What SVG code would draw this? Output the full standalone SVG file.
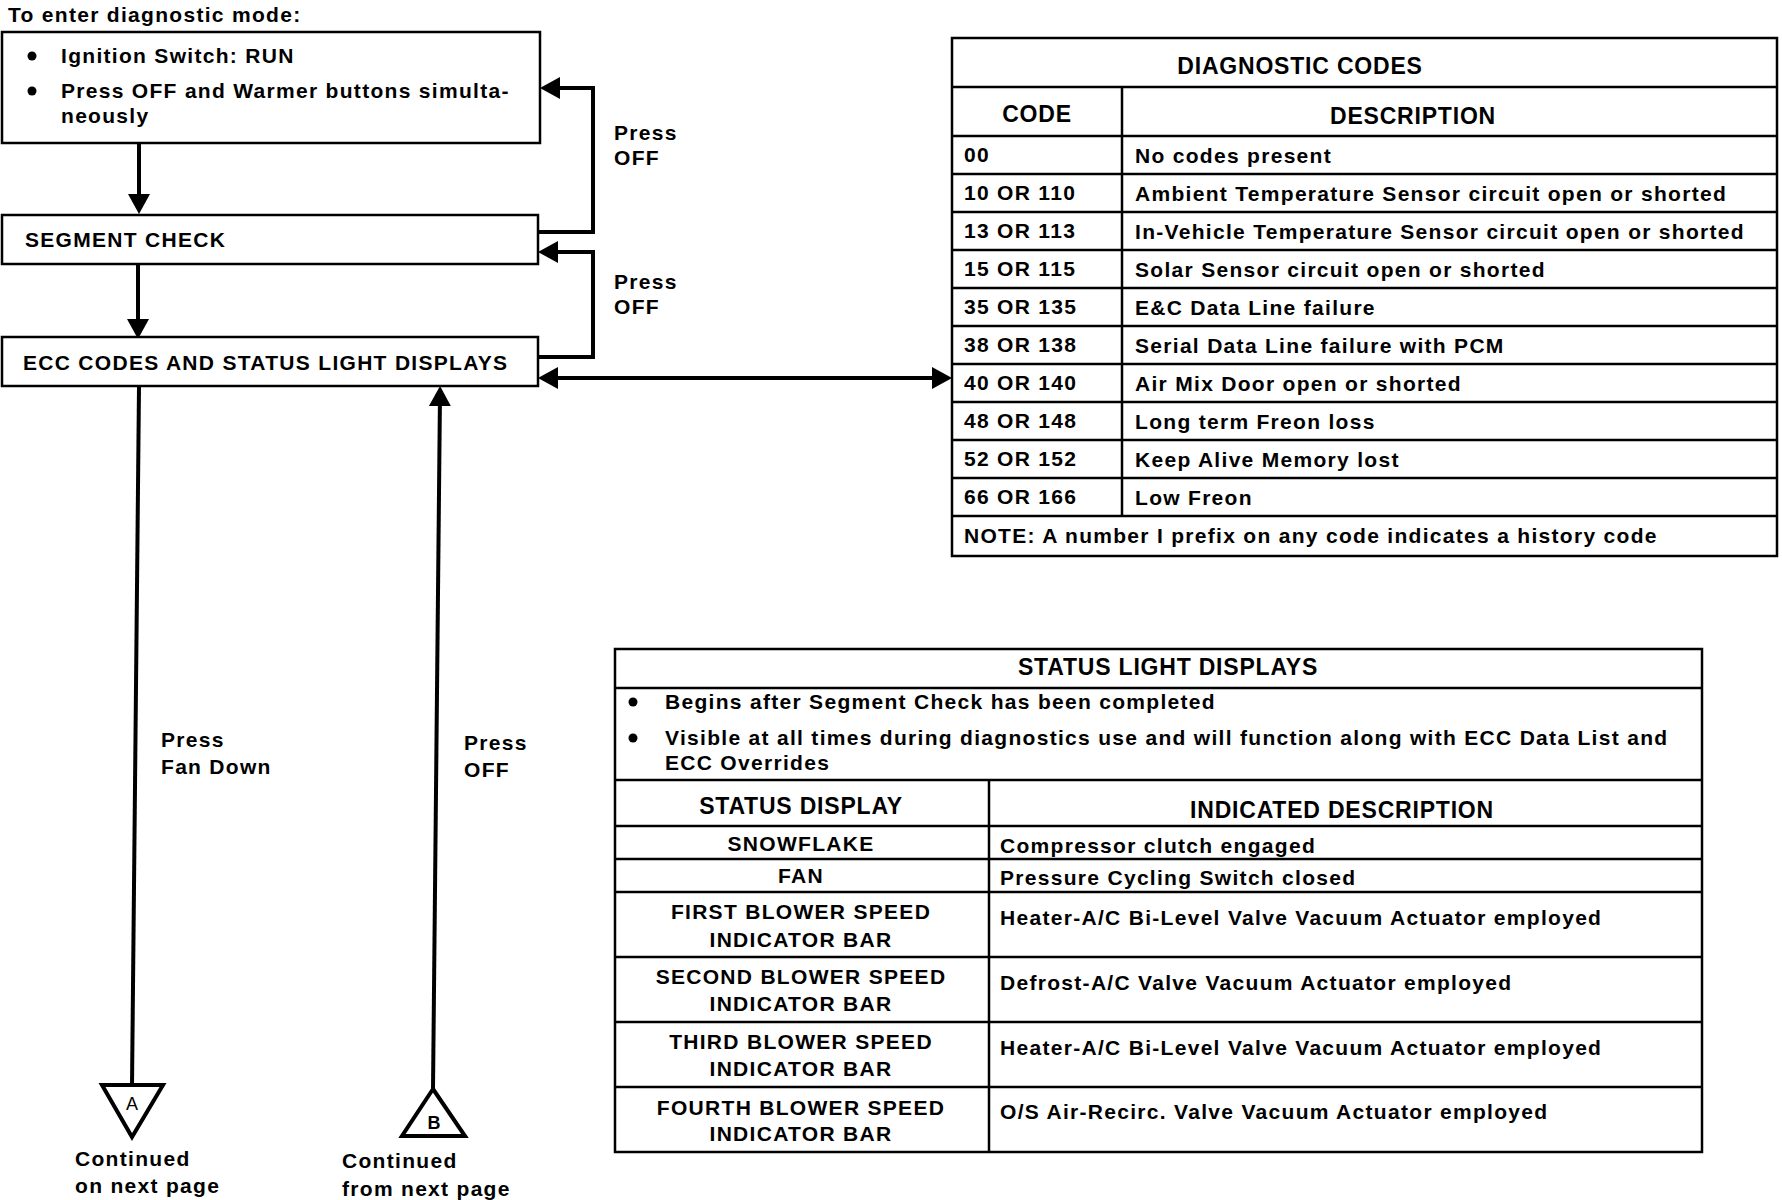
<svg xmlns="http://www.w3.org/2000/svg" width="1782" height="1200" viewBox="0 0 1782 1200">
<style>
  .t{font-family:"Liberation Sans",Arial,sans-serif;font-weight:bold;font-size:21px;letter-spacing:1.3px;fill:#000}
  .h{font-family:"Liberation Sans",Arial,sans-serif;font-weight:bold;font-size:23px;letter-spacing:0.8px;fill:#000}
  .c{text-anchor:middle}
  .box{fill:#fff;stroke:#000;stroke-width:2.5}
  .grid{stroke:#000;stroke-width:2.5;fill:none}
  .conn{stroke:#000;stroke-width:4;fill:none}
  .tri{fill:#fff;stroke:#000;stroke-width:4;stroke-linejoin:miter}
  .lt{font-family:"Liberation Sans",Arial,sans-serif;font-size:18px;fill:#000;text-anchor:middle}
  .dot{fill:#000}
</style>
<defs>
  <marker id="ah" markerUnits="userSpaceOnUse" viewBox="0 0 20 22" refX="12" refY="11" markerWidth="20" markerHeight="22" orient="auto-start-reverse">
    <path d="M0,0 L20,11 L0,22 z" fill="#000"/>
  </marker>
</defs>
<rect width="1782" height="1200" fill="#fff"/>

<text class="t" x="8" y="22">To enter diagnostic mode:</text>

<g id="connectors">
  <path class="conn" d="M139,143 L139,206" marker-end="url(#ah)"/>
  <path class="conn" d="M138,264 L138,331" marker-end="url(#ah)"/>
  <path class="conn" d="M538,232 H593 V88 H548" marker-end="url(#ah)"/>
  <path class="conn" d="M538,357 H593 V252 H546" marker-end="url(#ah)"/>
  <path class="conn" d="M546,378 H944" marker-start="url(#ah)" marker-end="url(#ah)"/>
  <path class="conn" d="M139,387 L132,1086"/>
  <path class="conn" d="M433,1089 L440,394" marker-end="url(#ah)"/>
  <text class="t" x="614" y="140">Press</text>
  <text class="t" x="614" y="165">OFF</text>
  <text class="t" x="614" y="289">Press</text>
  <text class="t" x="614" y="314">OFF</text>
  <text class="t" x="161" y="747">Press</text>
  <text class="t" x="161" y="774">Fan Down</text>
  <text class="t" x="464" y="750">Press</text>
  <text class="t" x="464" y="777">OFF</text>
</g>

<g id="node-enter">
  <rect class="box" x="2" y="32" width="538" height="111"/>
  <circle class="dot" cx="32" cy="56" r="4.5"/>
  <text class="t" x="61" y="63">Ignition Switch: RUN</text>
  <circle class="dot" cx="32" cy="91" r="4.5"/>
  <text class="t" x="61" y="98">Press OFF and Warmer buttons simulta-</text>
  <text class="t" x="61" y="123">neously</text>
</g>

<g id="node-segment">
  <rect class="box" x="2" y="215" width="536" height="49"/>
  <text class="t" x="25" y="247">SEGMENT CHECK</text>
</g>

<g id="node-ecc">
  <rect class="box" x="2" y="337" width="536" height="49"/>
  <text class="t" x="23" y="370">ECC CODES AND STATUS LIGHT DISPLAYS</text>
</g>

<g id="node-A">
  <polygon class="tri" points="102,1085 163,1085 132,1137"/>
  <text class="lt" x="132" y="1110">A</text>
  <text class="t" x="75" y="1166">Continued</text>
  <text class="t" x="75" y="1193">on next page</text>
</g>

<g id="node-B">
  <polygon class="tri" points="433,1089 465,1136 402,1136"/>
  <text class="lt" x="434" y="1129" font-weight="bold">B</text>
  <text class="t" x="342" y="1168">Continued</text>
  <text class="t" x="342" y="1196">from next page</text>
</g>

<g id="table-codes">
  <rect class="box" x="952" y="38" width="825" height="518"/>
  <path class="grid" d="M952,87 H1777 M952,136 H1777 M952,174 H1777 M952,212 H1777 M952,250 H1777 M952,288 H1777 M952,326 H1777 M952,364 H1777 M952,402 H1777 M952,440 H1777 M952,478 H1777 M952,516 H1777 M1122,87 V516"/>
  <text class="h c" x="1300" y="74">DIAGNOSTIC CODES</text>
  <text class="h c" x="1037" y="122">CODE</text>
  <text class="h c" x="1413" y="124">DESCRIPTION</text>
  <text class="t" x="964" y="162">00</text>
  <text class="t" x="1135" y="163">No codes present</text>
  <text class="t" x="964" y="200">10 OR 110</text>
  <text class="t" x="1135" y="201">Ambient Temperature Sensor circuit open or shorted</text>
  <text class="t" x="964" y="238">13 OR 113</text>
  <text class="t" x="1135" y="239">In-Vehicle Temperature Sensor circuit open or shorted</text>
  <text class="t" x="964" y="276">15 OR 115</text>
  <text class="t" x="1135" y="277">Solar Sensor circuit open or shorted</text>
  <text class="t" x="964" y="314">35 OR 135</text>
  <text class="t" x="1135" y="315">E&amp;C Data Line failure</text>
  <text class="t" x="964" y="352">38 OR 138</text>
  <text class="t" x="1135" y="353">Serial Data Line failure with PCM</text>
  <text class="t" x="964" y="390">40 OR 140</text>
  <text class="t" x="1135" y="391">Air Mix Door open or shorted</text>
  <text class="t" x="964" y="428">48 OR 148</text>
  <text class="t" x="1135" y="429">Long term Freon loss</text>
  <text class="t" x="964" y="466">52 OR 152</text>
  <text class="t" x="1135" y="467">Keep Alive Memory lost</text>
  <text class="t" x="964" y="504">66 OR 166</text>
  <text class="t" x="1135" y="505">Low Freon</text>
  <text class="t" x="964" y="543">NOTE: A number I prefix on any code indicates a history code</text>
</g>

<g id="table-status">
  <rect class="box" x="615" y="649" width="1087" height="503"/>
  <path class="grid" d="M615,688 H1702 M615,780 H1702 M615,826 H1702 M615,859 H1702 M615,892 H1702 M615,957 H1702 M615,1022 H1702 M615,1087 H1702 M989,780 V1152"/>
  <text class="h c" x="1168" y="675">STATUS LIGHT DISPLAYS</text>
  <circle class="dot" cx="633" cy="702" r="4.5"/>
  <text class="t" x="665" y="709">Begins after Segment Check has been completed</text>
  <circle class="dot" cx="633" cy="738" r="4.5"/>
  <text class="t" x="665" y="745">Visible at all times during diagnostics use and will function along with ECC Data List and</text>
  <text class="t" x="665" y="770">ECC Overrides</text>
  <text class="h c" x="801" y="814">STATUS DISPLAY</text>
  <text class="h c" x="1342" y="818">INDICATED DESCRIPTION</text>
  <text class="t c" x="801" y="851">SNOWFLAKE</text>
  <text class="t" x="1000" y="853">Compressor clutch engaged</text>
  <text class="t c" x="801" y="883">FAN</text>
  <text class="t" x="1000" y="885">Pressure Cycling Switch closed</text>
  <text class="t c" x="801" y="919">FIRST BLOWER SPEED</text>
  <text class="t c" x="801" y="947">INDICATOR BAR</text>
  <text class="t" x="1000" y="925">Heater-A/C Bi-Level Valve Vacuum Actuator employed</text>
  <text class="t c" x="801" y="984">SECOND BLOWER SPEED</text>
  <text class="t c" x="801" y="1011">INDICATOR BAR</text>
  <text class="t" x="1000" y="990">Defrost-A/C Valve Vacuum Actuator employed</text>
  <text class="t c" x="801" y="1049">THIRD BLOWER SPEED</text>
  <text class="t c" x="801" y="1076">INDICATOR BAR</text>
  <text class="t" x="1000" y="1055">Heater-A/C Bi-Level Valve Vacuum Actuator employed</text>
  <text class="t c" x="801" y="1115">FOURTH BLOWER SPEED</text>
  <text class="t c" x="801" y="1141">INDICATOR BAR</text>
  <text class="t" x="1000" y="1119">O/S Air-Recirc. Valve Vacuum Actuator employed</text>
</g>
</svg>
